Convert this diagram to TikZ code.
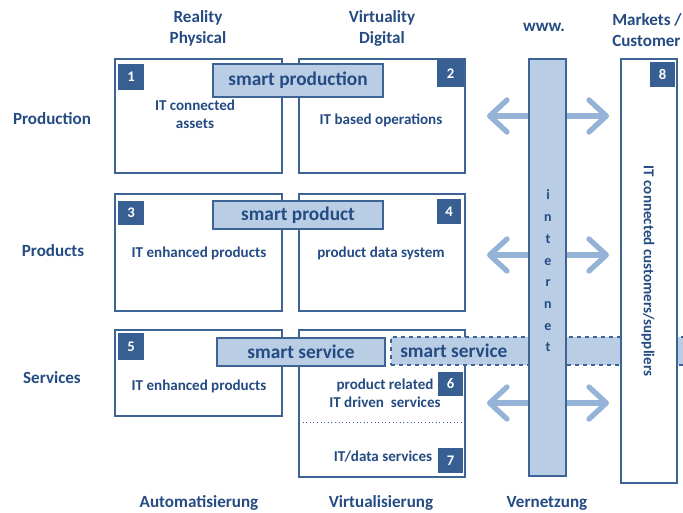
\documentclass[tikz,border=0pt]{standalone}
\usepackage{fontspec}
\setmainfont{Carlito}
\usetikzlibrary{arrows.meta,fit}
\definecolor{ink}{HTML}{244B82}
\definecolor{edge}{HTML}{3E6496}
\definecolor{badge}{HTML}{375F92}
\definecolor{pale}{HTML}{B9CDE5}
\definecolor{arrowc}{HTML}{95B3D7}
\begin{document}
\begin{tikzpicture}[x=0.75pt,y=-0.75pt,
  box/.style={draw=edge, line width=1.5pt, fill=white, inner sep=0pt},
  smart/.style={draw=edge, line width=1.5pt, fill=pale, inner sep=0pt},
  smarttxt/.style={text=ink, inner sep=0pt, font=\bfseries\fontsize{14.5}{16}\selectfont},
  num/.style={fill=badge, inner sep=0pt},
  numtxt/.style={text=white, inner sep=0pt, font=\bfseries\fontsize{11}{12}\selectfont},
  lbl/.style={text=ink, font=\bfseries\fontsize{11.3}{13.5}\selectfont, align=center},
  head/.style={text=ink, font=\bfseries\fontsize{12.8}{15.7}\selectfont, align=center},
  link/.style={arrowc, line width=4pt,
    {Straight Barb[length=13pt,width=24pt,round]}-{Straight Barb[length=13pt,width=24pt,round]}}
]
\useasboundingbox (0,0) rectangle (683,512);

% column and row headings
\node[head] (hreal) at (198,28) {Reality\\Physical};
\node[head] (hvirt) at (382,28) {Virtuality\\Digital};
\node[head] (hwww) at (544,27) {www.};
\node[head, align=left, anchor=west, inner sep=0pt] (hmkt) at (612,30) {Markets /\\Customer};
\node[head] (rprod) at (52,119) {Production};
\node[head] (rprods) at (53,251) {Products};
\node[head] (rserv) at (52,378) {Services};
\node[head] (fauto) at (199,503) {Automatisierung};
\node[head] (fvirt) at (381,503) {Virtualisierung};
\node[head] (fnet) at (547,503) {Vernetzung};

% field boxes
\node[box, fit={(115,59) (282,173)}] (b1) {};
\node[box, fit={(299,59) (465,173)}] (b2) {};
\node[box, fit={(115,194) (282,311)}] (b3) {};
\node[box, fit={(299,194) (465,311)}] (b4) {};
\node[box, fit={(115,330) (282,416)}] (b5) {};
\node[box, fit={(299,330) (465,477)}] (b67) {};
\coordinate (d1) at (299,422);
\coordinate (d2) at (465,422);
\draw[edge, dotted, line width=0.7pt] (d1) -- (d2);

% smart bands
\node[smart, fit={(213,64) (383,97)}] (sprod) {};
\node[smarttxt] at (sprod.center) {smart production};
\node[smart, fit={(213,201) (383,229)}] (sproduct) {};
\node[smarttxt] at (sproduct.center) {smart product};
\node[smart, fit={(217,338) (385,366)}] (sserv) {};
\node[smarttxt] at (sserv.center) {smart service};
\node[smart, dashed, fit={(391,337) (700,365)}] (sband) {};
\node[smarttxt, anchor=west] (sserv2) at (400,351) {smart service};

% links across the internet
\coordinate (l1) at (487,116); \coordinate (r1) at (609,116);
\coordinate (l2) at (487,255); \coordinate (r2) at (609,255);
\coordinate (l3) at (487,403); \coordinate (r3) at (609,403);
\draw[link] (l1) -- (r1);
\draw[link] (l2) -- (r2);
\draw[link] (l3) -- (r3);

% internet bar and market box
\node[box, fill=pale, fit={(529,59) (566,476)}] (net) {};
\node[text=ink, font=\bfseries\fontsize{10.5}{16.3}\selectfont, align=center] (nettxt) at (548,271)
  {i\\n\\t\\e\\r\\n\\e\\t};
\node[box, fit={(621,59) (677,483)}] (b8) {};
\node[lbl, rotate=-90] (t8) at (648,271) {IT connected customers/suppliers};

% numbered badges
\node[num, fit={(118,64) (144,90)}] (n1) {};
\node[num, fit={(437,60) (464,87)}] (n2) {};
\node[num, fit={(118,201) (144,225)}] (n3) {};
\node[num, fit={(437,199) (461,224)}] (n4) {};
\node[num, fit={(118,333) (144,360)}] (n5) {};
\node[num, fit={(438,372) (463,396)}] (n6) {};
\node[num, fit={(438,448) (463,473)}] (n7) {};
\node[num, fit={(650,62) (675,87)}] (n8) {};
\foreach \b/\t in {n1/1,n2/2,n3/3,n4/4,n5/5,n6/6,n7/7,n8/8}
  \node[numtxt] at (\b.center) {\t};

% field texts
\node[lbl] (t1) at (195,114) {IT connected\\assets};
\node[lbl] (t2) at (381,120) {IT based operations};
\node[lbl] (t3) at (199,253) {IT enhanced products};
\node[lbl] (t4) at (381,253) {product data system};
\node[lbl] (t5) at (199,386) {IT enhanced products};
\node[lbl] (t6) at (385,393) {product related\\IT driven~~services};
\node[lbl] (t7) at (383,457) {IT/data services};
\end{tikzpicture}
\end{document}
